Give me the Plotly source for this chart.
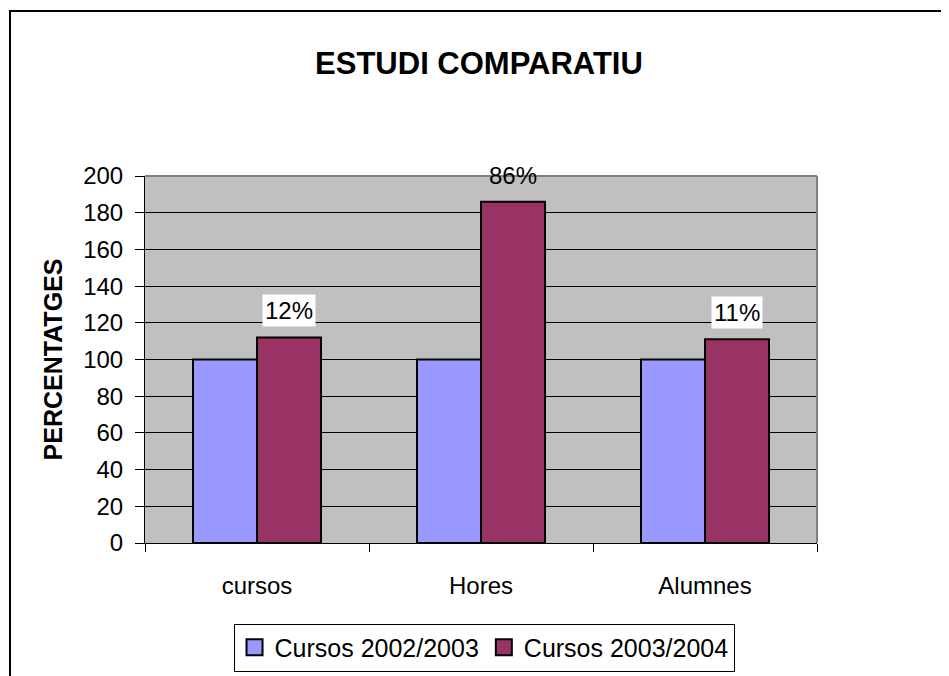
import plotly.graph_objects as go

categories = ["cursos", "Hores", "Alumnes"]
cursos_2002 = [100, 100, 100]
cursos_2003 = [112, 186, 111]
labels_2003 = ["12%", "86%", "11%"]
series_names = ["Cursos 2002/2003", "Cursos 2003/2004"]
colors = ["#9999FF", "#993366"]

FONT = "Arial, Liberation Sans, sans-serif"

fig = go.Figure()

# bars (legend drawn with bigger square markers below)
for name, vals, col in zip(series_names, [cursos_2002, cursos_2003], colors):
    fig.add_trace(go.Bar(x=categories, y=vals, name=name, marker_color=col,
                         marker_line=dict(color="black", width=2),
                         showlegend=False))
    fig.add_trace(go.Scatter(x=[None], y=[None], mode="markers", name=name,
                             marker=dict(symbol="square", size=16, color=col,
                                         line=dict(color="black", width=2))))

# percentage labels above the 2003/2004 bars
for cat, val, lab in zip(categories, cursos_2003, labels_2003):
    fig.add_annotation(x=cat, y=val, text=lab, showarrow=False,
                       xshift=32, yanchor="bottom", yshift=10, borderpad=2,
                       bgcolor="white" if val < 150 else "rgba(0,0,0,0)",
                       font=dict(size=24, color="black", family=FONT))

# outer chart border
fig.add_shape(type="rect", xref="paper", yref="paper",
              x0=-0.2009, x1=1.25, y0=-0.4, y1=1.4499,
              line=dict(color="black", width=2), layer="below")

fig.update_layout(
    width=949, height=676,
    margin=dict(l=137, r=140, t=168, b=139),
    paper_bgcolor="white", plot_bgcolor="#C0C0C0",
    barmode="group", bargap=0.4286, bargroupgap=0,
    font=dict(family=FONT, size=24, color="black"),
    title=dict(text="<b>ESTUDI COMPARATIU</b>", x=0.4963, xanchor="center",
               y=0.919, yanchor="middle", font=dict(size=31)),
    legend=dict(orientation="h", x=0.5045, xanchor="center", y=-0.285,
                yanchor="middle", bordercolor="black", borderwidth=1,
                bgcolor="white", font=dict(size=25), itemwidth=30,
                tracegroupgap=0),
    showlegend=True,
)

fig.update_xaxes(showgrid=False, showline=True, linecolor="black", linewidth=1,
                 ticks="outside", ticklen=8, tickcolor="black",
                 tickson="boundaries", ticklabelstandoff=21, mirror=False)
fig.update_yaxes(range=[0, 200], dtick=20, showgrid=True, gridcolor="black",
                 gridwidth=1, showline=True, linecolor="black", linewidth=1,
                 ticks="outside", ticklen=9, tickcolor="black", zeroline=False,
                 ticklabelstandoff=7,
                 title=dict(text="<b>PERCENTATGES</b>", font=dict(size=25),
                            standoff=13))

# gray top and right frame of the plot area
fig.add_shape(type="line", xref="paper", yref="paper", x0=0, x1=1, y0=1, y1=1,
              line=dict(color="#808080", width=2))
fig.add_shape(type="line", xref="paper", yref="paper", x0=1, x1=1, y0=0, y1=1,
              line=dict(color="#808080", width=2))

fig.write_html("out.html")
